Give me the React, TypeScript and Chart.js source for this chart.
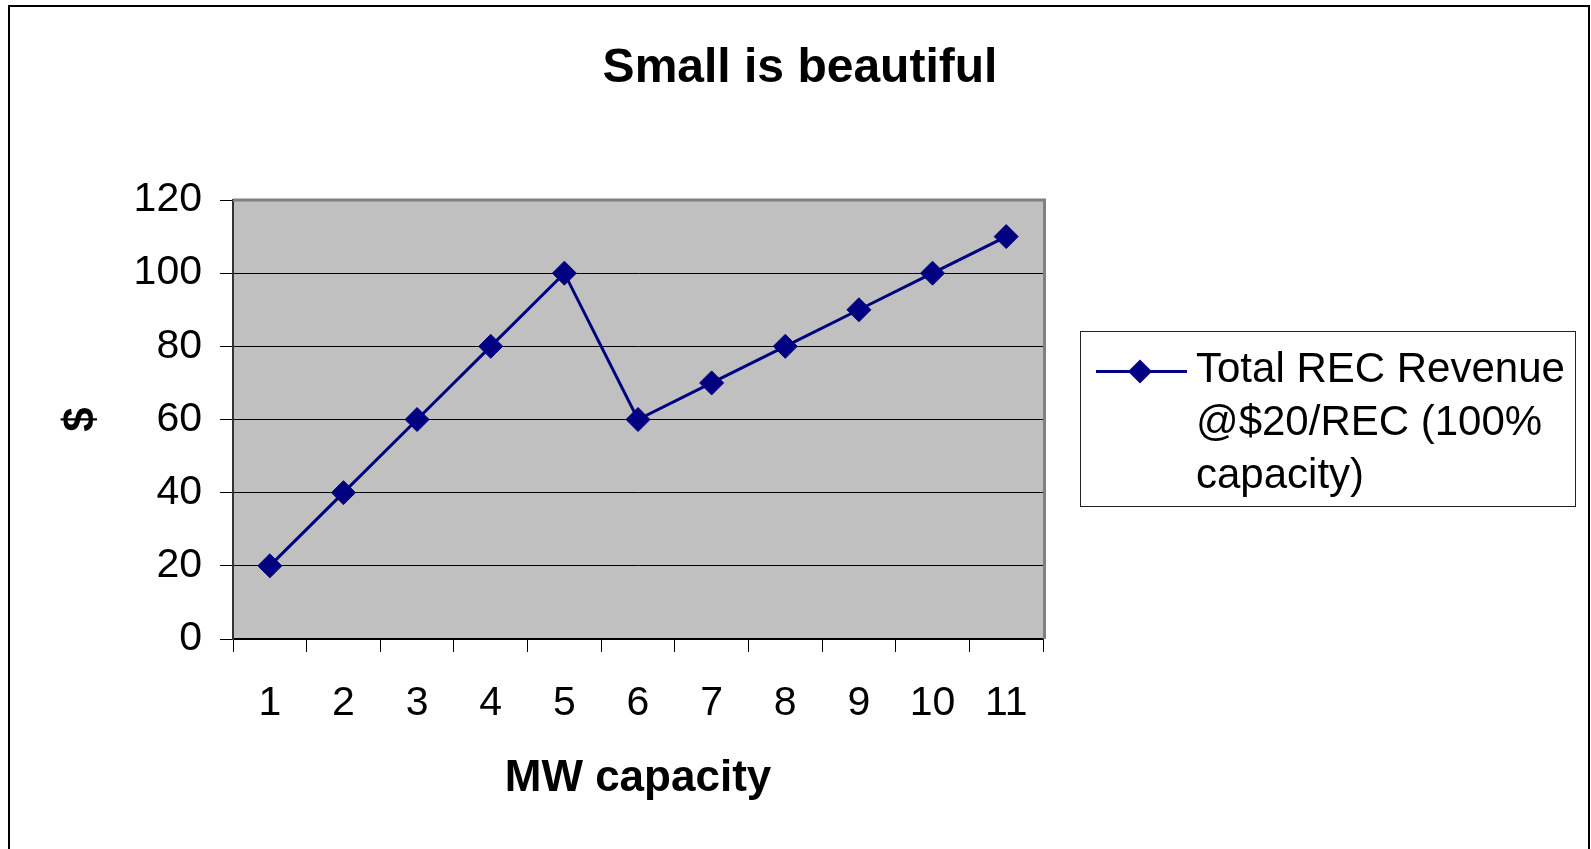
import React, { useEffect, useRef } from "react";
import { Chart, registerables } from "chart.js";

Chart.register(...registerables);

const categories = ["1", "2", "3", "4", "5", "6", "7", "8", "9", "10", "11"];
const revenue = [20, 40, 60, 80, 100, 60, 70, 80, 90, 100, 110];
const seriesName = "Total REC Revenue @$20/REC (100% capacity)";
const legendLines = ["Total REC Revenue", "@$20/REC (100%", "capacity)"];
const chartTitle = "Small is beautiful";
const xTitle = "MW capacity";
const yTitle = "$";
const yMin = 0;
const yMax = 120;
const yStep = 20;

const FONT = "'Liberation Sans', Arial, Helvetica, sans-serif";
const NAVY = "#000080";

const framePlugin = {
  id: "frameAndPlot",
  beforeDraw(chart: any) {
    const { ctx, chartArea } = chart;
    ctx.save();
    ctx.fillStyle = "#ffffff";
    ctx.fillRect(0, 0, chart.width, chart.height);
    ctx.strokeStyle = "#000000";
    ctx.lineWidth = 2;
    ctx.strokeRect(9, 6, 1580, 900);
    ctx.fillStyle = "#C0C0C0";
    ctx.fillRect(chartArea.left, chartArea.top, chartArea.right - chartArea.left, chartArea.bottom - chartArea.top);
    ctx.restore();
  },
  beforeDatasetsDraw(chart: any) {
    const { ctx, chartArea } = chart;
    ctx.save();
    ctx.strokeStyle = "#808080";
    ctx.lineWidth = 3;
    ctx.beginPath();
    ctx.moveTo(chartArea.left, chartArea.top);
    ctx.lineTo(chartArea.right + 1.5, chartArea.top);
    ctx.lineTo(chartArea.right + 1.5, chartArea.bottom);
    ctx.stroke();
    ctx.restore();
  },
  afterDraw(chart: any) {
    const { ctx } = chart;
    ctx.save();
    // legend box
    ctx.strokeStyle = "#222222";
    ctx.lineWidth = 1;
    ctx.strokeRect(1080.5, 331.5, 495, 175);
    // sample line
    const ly = 371.5;
    ctx.strokeStyle = NAVY;
    ctx.lineWidth = 3;
    ctx.beginPath();
    ctx.moveTo(1096, ly);
    ctx.lineTo(1187, ly);
    ctx.stroke();
    // diamond
    const cx = 1140;
    const r = 12;
    ctx.fillStyle = NAVY;
    ctx.beginPath();
    ctx.moveTo(cx, ly - r);
    ctx.lineTo(cx + r, ly);
    ctx.lineTo(cx, ly + r);
    ctx.lineTo(cx - r, ly);
    ctx.closePath();
    ctx.fill();
    // text
    ctx.fillStyle = "#000000";
    ctx.font = `42px ${FONT}`;
    ctx.textBaseline = "alphabetic";
    ctx.textAlign = "left";
    const baselines = [382, 435, 488];
    legendLines.forEach((t, i) => ctx.fillText(t, 1196, baselines[i]));
    ctx.restore();
  },
};

export default function App() {
  const ref = useRef<HTMLCanvasElement | null>(null);

  useEffect(() => {
    if (!ref.current) return;
    const chart = new Chart(ref.current, {
      type: "line",
      data: {
        labels: categories,
        datasets: [
          {
            label: seriesName,
            data: revenue,
            borderColor: NAVY,
            backgroundColor: NAVY,
            borderWidth: 3,
            pointStyle: "rectRot",
            pointRadius: 12,
            pointHoverRadius: 12,
            pointBackgroundColor: NAVY,
            pointBorderColor: NAVY,
            pointBorderWidth: 1,
            tension: 0,
            yAxisID: "y",
          },
        ],
      },
      plugins: [framePlugin],
      options: {
        responsive: false,
        animation: false,
        devicePixelRatio: 1,
        events: [],
        layout: { padding: { left: 55, right: 46, top: 0, bottom: 43.6 } },
        plugins: {
          legend: { display: false },
          tooltip: { enabled: false },
          title: {
            display: true,
            text: chartTitle,
            color: "#000",
            font: { family: FONT, size: 48, weight: "bold", lineHeight: 1.2 },
            padding: { top: 40.2, bottom: 102.2 },
          },
        },
        scales: {
          x: {
            type: "category",
            offset: true,
            grid: {
              display: true,
              offset: true,
              drawOnChartArea: false,
              drawTicks: true,
              tickLength: 13,
              color: "#000",
              lineWidth: 1,
            },
            border: { display: true, color: "#000", width: 2 },
            ticks: {
              color: "#000",
              font: { family: FONT, size: 41, lineHeight: 1.2 },
              padding: 27,
              maxRotation: 0,
              autoSkip: false,
            },
            title: {
              display: true,
              text: xTitle,
              color: "#000",
              font: { family: FONT, size: 44, weight: "bold", lineHeight: 1.2 },
              padding: { top: 0, bottom: 0 },
            },
            afterFit(s: any) {
              s.height = 166.4;
            },
          },
          y: {
            type: "linear",
            position: "left",
            min: yMin,
            max: yMax,
            grid: {
              display: true,
              drawOnChartArea: true,
              drawTicks: true,
              tickLength: 13,
              color: "#000",
              lineWidth: 1,
            },
            border: { display: true, color: "#333", width: 2 },
            ticks: {
              stepSize: yStep,
              color: "#000",
              font: { family: FONT, size: 41, lineHeight: 1.2 },
              padding: 18,
            },
            title: {
              display: true,
              text: yTitle,
              color: "#000",
              font: { family: FONT, size: 44, weight: "bold", lineHeight: 1.2 },
              padding: { top: 0, bottom: 0 },
            },
            afterFit(s: any) {
              s.width = 178;
            },
          },
          legendSpace: {
            type: "linear",
            position: "right",
            display: true,
            grid: { display: false },
            border: { display: false },
            ticks: { display: false },
            afterFit(s: any) {
              s.width = 502;
            },
          },
        },
      } as any,
    });
    return () => chart.destroy();
  }, []);

  return (
    <div style={{ position: "absolute", left: 0, top: 0, width: 1591, height: 849, overflow: "hidden", background: "#fff" }}>
      <canvas ref={ref} width={1591} height={849} style={{ display: "block", width: 1591, height: 849 }} />
    </div>
  );
}
